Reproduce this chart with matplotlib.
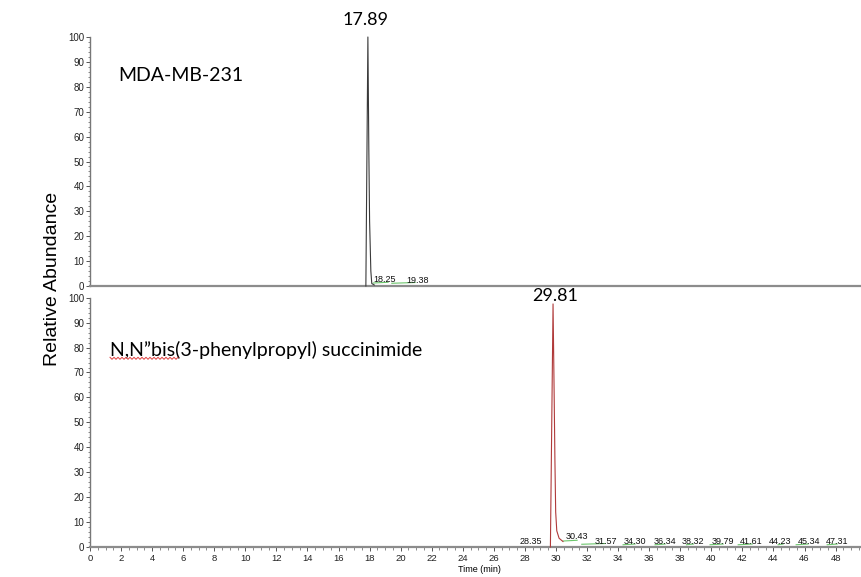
import numpy as np
import matplotlib
matplotlib.use("Agg")
import matplotlib.pyplot as plt
from matplotlib.ticker import MultipleLocator
from matplotlib.lines import Line2D

plt.rcParams['font.family'] = ['Liberation Sans', 'DejaVu Sans']

# trace data (time in min, relative abundance in %)
top_time = [17.76, 17.89, 17.95, 18.0, 18.08, 18.14, 18.3]
top_abund = [0.0, 100.0, 55.0, 26.0, 6.0, 1.0, 0.4]

bot_time = [29.64, 29.81, 29.88, 29.93, 29.98, 30.05, 30.2, 30.45]
bot_abund = [0.0, 97.5, 62.0, 35.0, 14.0, 6.5, 3.5, 2.2]

# minor peak labels: (text, x position, y position)
top_labels = ["18.25", "19.38"]
top_label_x = [18.96, 21.06]
top_label_y = [2.8, 2.4]

bot_labels = ["28.35", "30.43", "31.57", "34.30", "36.34", "38.32",
              "39.79", "41.61", "44.23", "45.34", "47.31"]
bot_label_x = [28.40, 31.36, 33.23, 35.07, 36.99, 38.83,
               40.76, 42.56, 44.43, 46.28, 48.10]
bot_label_y = [2.1, 4.1, 2.4, 2.4, 2.4, 2.4, 2.4, 2.4, 2.4, 2.4, 2.4]

# integration baselines (green)
top_base_start = [18.24, 19.43]
top_base_end = [19.19, 20.93]
top_base_level = [1.2, 1.1]

bot_base_start = [30.46, 31.66, 34.32, 36.38, 38.40, 39.92, 41.73, 44.30, 45.46, 47.46]
bot_base_end = [31.36, 33.16, 35.09, 37.03, 38.85, 40.76, 42.63, 44.62, 46.23, 48.10]
bot_base_level = [2.4, 1.1, 0.9, 0.9, 0.9, 0.9, 0.9, 0.9, 0.9, 0.9]

W, H = 862, 577
fig = plt.figure(figsize=(W / 100, H / 100), dpi=100)

left = 90 / W
width = (W - 90) / W
ax_top = fig.add_axes([left, 1 - 286 / H, width, (286 - 37) / H])
ax_bot = fig.add_axes([left, 1 - 547 / H, width, (547 - 297.7) / H])

spine_col = '#8c8c8c'
for ax in (ax_top, ax_bot):
    ax.set_xlim(0, 49.7)
    ax.set_ylim(0, 100)
    for s in ('top', 'right'):
        ax.spines[s].set_visible(False)
    ax.spines['left'].set_color('#777777')
    ax.spines['left'].set_linewidth(1.0)
    ax.spines['bottom'].set_color(spine_col)
    ax.spines['bottom'].set_linewidth(1.6)
    ax.yaxis.set_major_locator(MultipleLocator(10))
    ax.yaxis.set_minor_locator(MultipleLocator(2))
    ax.tick_params(axis='y', which='major', length=3.2, width=0.7, color='#555555',
                   labelsize=7, pad=1, labelcolor='#222222')
    ax.tick_params(axis='y', which='minor', length=1.8, width=0.6, color='#777777')
    ax.set_facecolor('none')

ax_top.tick_params(axis='x', which='both', bottom=False, labelbottom=False)
ax_bot.xaxis.set_major_locator(MultipleLocator(2))
ax_bot.xaxis.set_minor_locator(MultipleLocator(0.5))
ax_bot.tick_params(axis='x', which='major', length=3.2, width=0.7, color='#555555',
                   labelsize=6.8, pad=1.5, labelcolor='#222222')
ax_bot.tick_params(axis='x', which='minor', length=2.0, width=0.6, color='#777777')

# traces
ax_top.plot(top_time, top_abund, color='#3a3a3a', lw=0.8, clip_on=False, zorder=3)
ax_bot.plot(bot_time, bot_abund, color='#b03a3a', lw=0.8, clip_on=False, zorder=3)

# baselines
for s, e, lv in zip(top_base_start, top_base_end, top_base_level):
    ax_top.plot([s, e], [lv, lv + 0.3], color='#6cc66c', lw=0.8)
for s, e, lv in zip(bot_base_start, bot_base_end, bot_base_level):
    ax_bot.plot([s, e], [lv, lv + 0.3], color='#6cc66c', lw=0.8)

# minor peak labels
for t, x, y in zip(top_labels, top_label_x, top_label_y):
    ax_top.text(x, y, t, fontsize=6.5, ha='center', va='center', color='#111111')
for t, x, y in zip(bot_labels, bot_label_x, bot_label_y):
    ax_bot.text(x, y, t, fontsize=6.5, ha='center', va='center', color='#111111')

# main peak labels and sample names
ax_top.text(17.74, 106.8, "17.89", fontsize=13, family='Lato', ha='center', va='center',
            clip_on=False)
ax_bot.text(29.92, 100.5, "29.81", fontsize=13, family='Lato', ha='center', va='center',
            clip_on=False)
ax_top.text(1.8, 84.7, "MDA-MB-231", fontsize=14, family='Lato', ha='left', va='center')
ax_bot.text(1.29, 79.0, "N,N\u201dbis(3-phenylpropyl) succinimide", fontsize=14,
            family='Lato', ha='left', va='center')

# spell-check style underline under "N,N”bis"
wx = np.arange(110, 179, 2)
wy = np.where((np.arange(len(wx)) % 2) == 0, 357.3, 359.3)
fig.add_artist(Line2D(wx / W, 1 - wy / H, color='#e04040', lw=0.7))

fig.text(53 / W, 1 - 279 / H, "Relative Abundance", rotation=90, fontsize=14,
         ha='center', va='center')
fig.text(479 / W, 1 - 570 / H, "Time (min)", fontsize=6.5, ha='center', va='center')

fig.savefig("out.png", dpi=100)
